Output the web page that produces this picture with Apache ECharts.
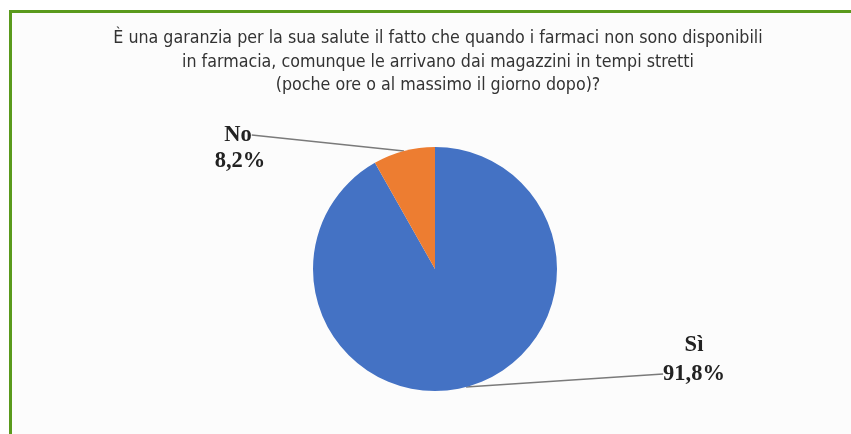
<!DOCTYPE html>
<html>
<head>
<meta charset="utf-8">
<script src="https://cdn.jsdelivr.net/npm/echarts@6/dist/echarts.min.js"></script>
<style>
html,body{margin:0;padding:0;background:#fff;}
#chart{width:851px;height:434px;}
</style>
</head>
<body>
<div id="chart"></div>
<script>
var titleText = 'È una garanzia per la sua salute il fatto che quando i farmaci non sono disponibili\nin farmacia, comunque le arrivano dai magazzini in tempi stretti\n(poche ore o al massimo il giorno dopo)?';
var categories = ['Sì', 'No'];
var values = [91.8, 8.2];
var colors = ['#4472c4', '#ed7d31'];

function pct(v) { return v.toFixed(1).replace('.', ',') + '%'; }

var dataA = categories.map(function (c, i) {
  return { name: c, value: values[i], itemStyle: { color: colors[i] } };
});
var dataB = categories.map(function (c, i) {
  return { name: c, value: values[i] };
});

// label anchor positions (pixels), by data index
var lineLabelPos = [[694, 374], [238, 135]];
var plainLabelPos = [[694, 345], [240, 161]];

var labelFont = {
  fontFamily: '"Liberation Serif", "Times New Roman", serif',
  fontWeight: 'bold',
  fontSize: 22.5,
  color: '#222'
};

var chart = echarts.init(document.getElementById('chart'), null, { renderer: 'canvas' });
chart.setOption({
  backgroundColor: '#ffffff',
  animation: false,
  graphic: [{
    type: 'rect',
    z: -10,
    shape: { x: 10.5, y: 11.5, width: 900, height: 500 },
    style: { fill: '#fcfcfc', stroke: '#5a9a1c', lineWidth: 3 }
  }],
  title: {
    text: titleText,
    left: 433,
    top: 22,
    textAlign: 'center',
    textStyle: {
      fontFamily: '"DejaVu Sans Condensed", "Liberation Sans Narrow", sans-serif',
      fontWeight: 'normal',
      fontSize: 17.7,
      lineHeight: 23.5,
      color: '#333333'
    }
  },
  series: [{
    type: 'pie',
    center: [435, 269],
    radius: 122,
    startAngle: 90,
    clockwise: true,
    avoidLabelOverlap: false,
    data: dataA,
    label: Object.assign({
      show: true,
      position: 'outside',
      formatter: function (p) { return p.dataIndex === 0 ? pct(p.value) : p.name; }
    }, labelFont),
    labelLine: {
      show: true,
      length: 10,
      length2: 0,
      smooth: false,
      lineStyle: { color: '#7a7a7a', width: 1.5 }
    },
    labelLayout: function (p) {
      var pos = lineLabelPos[p.dataIndex];
      return { x: pos[0], y: pos[1], align: 'center', verticalAlign: 'middle' };
    },
    emphasis: { disabled: true }
  }, {
    type: 'pie',
    center: [435, 269],
    radius: 122,
    startAngle: 90,
    clockwise: true,
    silent: true,
    avoidLabelOverlap: false,
    data: dataB,
    itemStyle: { color: 'rgba(0,0,0,0)' },
    label: Object.assign({
      show: true,
      position: 'outside',
      formatter: function (p) { return p.dataIndex === 0 ? p.name : pct(p.value); }
    }, labelFont),
    labelLine: { show: false },
    labelLayout: function (p) {
      var pos = plainLabelPos[p.dataIndex];
      return { x: pos[0], y: pos[1], align: 'center', verticalAlign: 'middle' };
    },
    emphasis: { disabled: true }
  }]
});
</script>
</body>
</html>
